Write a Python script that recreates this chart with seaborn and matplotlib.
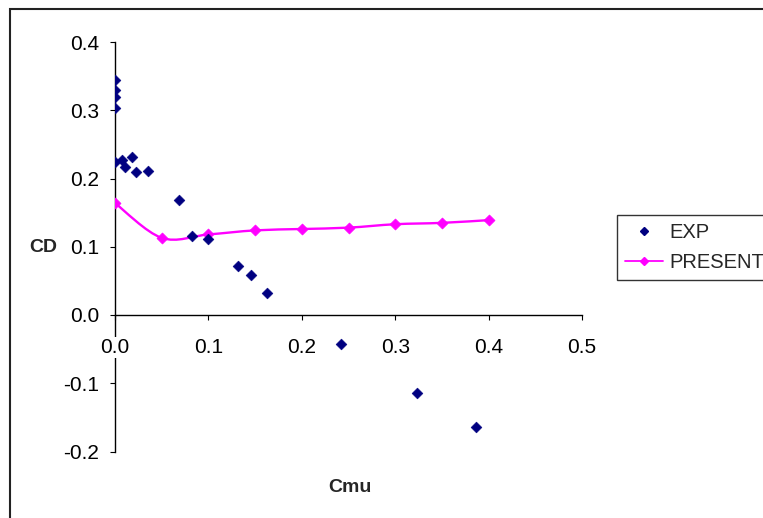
import numpy as np
import pandas as pd
import matplotlib
matplotlib.use("Agg")
import matplotlib.pyplot as plt
from matplotlib.lines import Line2D
from matplotlib.path import Path
from matplotlib.patches import PathPatch, Rectangle
import seaborn as sns

# experimental data
exp_cmu = [0.0, 0.0, 0.0, 0.0, 0.0, 0.008, 0.011, 0.018, 0.023, 0.035,
           0.068, 0.082, 0.100, 0.132, 0.146, 0.163, 0.242, 0.323, 0.386]
exp_cd = [0.345, 0.329, 0.319, 0.303, 0.224, 0.227, 0.217, 0.231, 0.209, 0.211,
          0.169, 0.116, 0.111, 0.072, 0.058, 0.032, -0.043, -0.114, -0.164]

# present computation
present_cmu = [0.0, 0.05, 0.1, 0.15, 0.2, 0.25, 0.3, 0.35, 0.4]
present_cd = [0.164, 0.113, 0.118, 0.124, 0.126, 0.128, 0.133, 0.135, 0.139]

x_ticks = [0.0, 0.1, 0.2, 0.3, 0.4, 0.5]
y_ticks = [-0.2, -0.1, 0.0, 0.1, 0.2, 0.3, 0.4]

sns.set_style("white")
plt.rcParams["font.family"] = ["Liberation Sans", "DejaVu Sans"]

W, H = 763, 518
fig = plt.figure(figsize=(W / 100, H / 100), dpi=100)
ax = fig.add_axes([115 / W, 1 - 451.5 / H, (582 - 115) / W, (451.5 - 42) / H])

exp_df = pd.DataFrame({"Cmu": exp_cmu, "CD": exp_cd})
pres_df = pd.DataFrame({"Cmu": present_cmu, "CD": present_cd})

ax.set_xlim(0, 0.5)
ax.set_ylim(-0.2, 0.4)

# smoothed line (Catmull-Rom -> cubic Bezier, done in pixel space like Excel)
pts = ax.transData.transform(np.column_stack([present_cmu, present_cd]))
ext = np.vstack([pts[0], pts, pts[-1]])
verts = [pts[0]]
codes = [Path.MOVETO]
for i in range(1, len(ext) - 2):
    p0, p1, p2, p3 = ext[i - 1], ext[i], ext[i + 1], ext[i + 2]
    verts += [p1 + (p2 - p0) / 6, p2 - (p3 - p1) / 6, p2]
    codes += [Path.CURVE4] * 3
verts = ax.transData.inverted().transform(np.array(verts))
ax.add_patch(PathPatch(Path(verts, codes), facecolor="none",
                       edgecolor="#FF00FF", lw=1.7, zorder=2))

sns.scatterplot(data=pres_df, x="Cmu", y="CD", ax=ax, marker="D", s=32,
                color="#FF00FF", edgecolor="#FF00FF", zorder=5, legend=False)
sns.scatterplot(data=exp_df, x="Cmu", y="CD", ax=ax, marker="D", s=30,
                color="#000080", edgecolor="#000080", zorder=6, legend=False)

ax.set_xlim(0, 0.5)
ax.set_ylim(-0.2, 0.4)
ax.set_xticks(x_ticks)
ax.set_xticklabels([f"{v:.1f}" for v in x_ticks])
ax.set_yticks(y_ticks)
ax.set_yticklabels([f"{v:.1f}" for v in y_ticks])

for s in ["top", "right"]:
    ax.spines[s].set_visible(False)
ax.spines["bottom"].set_position(("data", 0))
for s in ["left", "bottom"]:
    ax.spines[s].set_color("black")
    ax.spines[s].set_linewidth(1.0)
    ax.spines[s].set_zorder(2.2)
ax.xaxis.set_zorder(3)
ax.tick_params(axis="x", direction="out", length=3.6, width=0.8,
               pad=13, labelsize=15, colors="black", bottom=True)
ax.tick_params(axis="y", direction="out", length=3.6, width=0.8,
               pad=8, labelsize=15, colors="black", left=True)
# the "0.0" label sits on top of the value axis, as in Excel
ax.get_xticklabels()[0].set_bbox(dict(facecolor="white", edgecolor="none", pad=0.5))
ax.set_xlabel("")
ax.set_ylabel("")

fig.text(43 / W, 1 - 248 / H, "CD", fontsize=14, fontweight="bold",
         ha="center", va="center")
fig.text(350 / W, 1 - 488 / H, "Cmu", fontsize=14, fontweight="bold",
         ha="center", va="center")

handles = [
    Line2D([], [], ls="none", marker="D", ms=4.5, color="#000080"),
    Line2D([], [], ls="-", lw=1.3, marker="D", ms=4.5, color="#FF00FF"),
]
leg = fig.legend(handles, ["EXP", "PRESENT"], loc="upper left",
                 bbox_to_anchor=(617 / W, 1 - 215 / H), borderaxespad=0,
                 frameon=True, fancybox=False, edgecolor="black",
                 fontsize=14.5, handlelength=1.9, handletextpad=0.3,
                 labelspacing=0.55, borderpad=0.4, numpoints=1)
leg.get_frame().set_linewidth(1.0)

fig.patches.append(Rectangle((9.5 / W, -0.1), 1.2, 1 - 9.5 / H + 0.1,
                             transform=fig.transFigure, fill=False,
                             edgecolor="#222222", lw=1.5))

fig.savefig("out.png", dpi=100)
